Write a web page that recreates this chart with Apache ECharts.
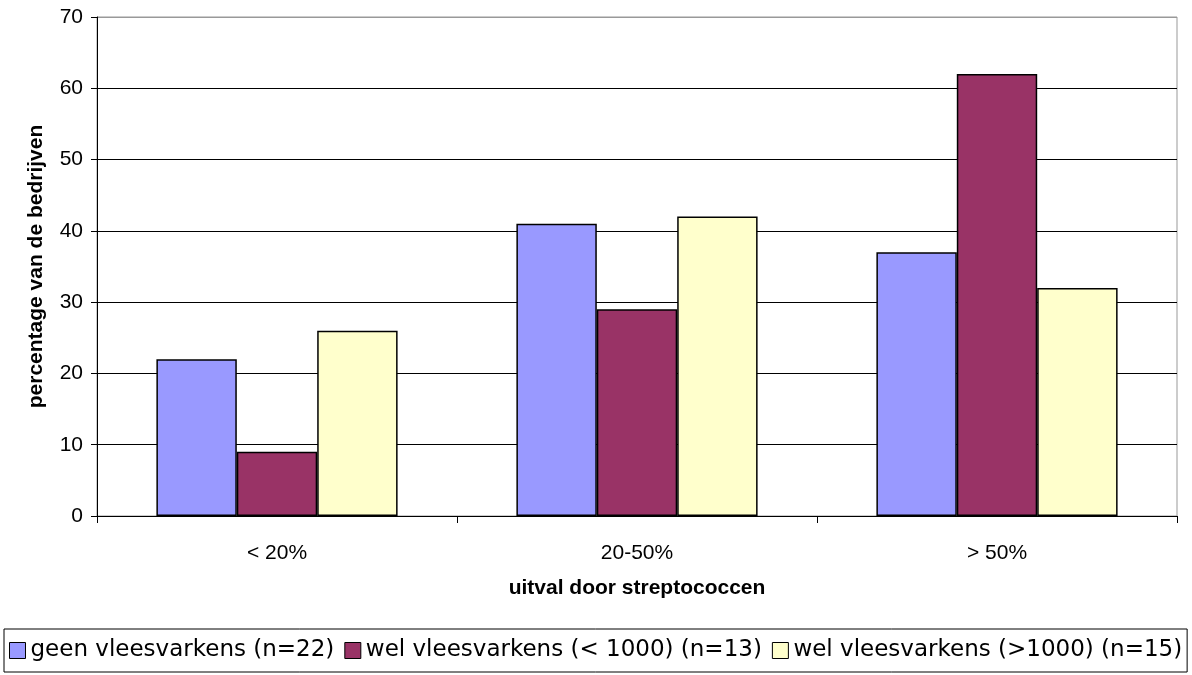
<!DOCTYPE html>
<html>
<head>
<meta charset="utf-8">
<script src="https://cdn.jsdelivr.net/npm/echarts@6/dist/echarts.min.js"></script>
<style>
  html, body { margin: 0; padding: 0; background: #fff; }
  #chart { width: 1192px; height: 675px; }
</style>
</head>
<body>
<div id="chart"></div>
<script>
// Uitval door streptococcen, per bedrijfstype
const categories = ['< 20%', '20-50%', '> 50%'];
const seriesNames = [
  'geen vleesvarkens (n=22)',
  'wel vleesvarkens (< 1000) (n=13)',
  'wel vleesvarkens (>1000) (n=15)'
];
const geenVlees = [22, 41, 37];
const welVleesKlein = [9, 29, 62];
const welVleesGroot = [26, 42, 32];
const seriesColors = ['#9999FF', '#993366', '#FFFFCC'];

const font = 'Liberation Sans, Arial, sans-serif';
const legendFont = 'DejaVu Sans, Liberation Sans, sans-serif';
const values = [geenVlees, welVleesKlein, welVleesGroot];

// gridlines are black, the top one sits on the grey plot frame
const gridColors = ['#000', '#000', '#000', '#000', '#000', '#000', '#000', '#999'];

const chart = echarts.init(document.getElementById('chart'), null, { renderer: 'canvas' });
chart.setOption({
  animation: false,
  backgroundColor: '#fff',
  textStyle: { fontFamily: font },
  grid: {
    left: 97, right: 15, top: 17, bottom: 159,
    show: true, borderColor: '#999', borderWidth: 1, backgroundColor: 'transparent'
  },
  legend: {
    left: 4, top: 629,
    padding: [10, 5, 10, 5],
    borderColor: '#000', borderWidth: 1,
    itemWidth: 16, itemHeight: 16, itemGap: 10,
    icon: 'rect',
    textStyle: { fontFamily: legendFont, fontSize: 23, color: '#000' },
    data: seriesNames.map(n => ({ name: n, itemStyle: { borderColor: '#000', borderWidth: 1 } }))
  },
  xAxis: {
    type: 'category',
    data: categories,
    name: 'uitval door streptococcen',
    nameLocation: 'middle',
    nameGap: 62,
    nameTextStyle: { fontFamily: font, fontSize: 21, fontWeight: 'bold', color: '#000' },
    axisLine: { lineStyle: { color: '#000', width: 1 } },
    axisTick: { show: true, length: 7, lineStyle: { color: '#000' } },
    axisLabel: { fontFamily: font, fontSize: 21, color: '#000', margin: 27 }
  },
  yAxis: {
    type: 'value',
    min: 0, max: 70, interval: 10,
    name: 'percentage van de bedrijven',
    nameLocation: 'middle',
    nameGap: 50,
    nameTextStyle: { fontFamily: font, fontSize: 21, fontWeight: 'bold', color: '#000' },
    axisLine: { show: true, lineStyle: { color: '#000', width: 1 } },
    axisTick: { show: true, length: 6, lineStyle: { color: '#000' } },
    axisLabel: { fontFamily: font, fontSize: 21, color: '#000', margin: 14 },
    splitLine: { show: true, lineStyle: { color: gridColors, width: 1 } }
  },
  series: seriesNames.map((name, i) => ({
    name: name,
    type: 'bar',
    data: values[i],
    barGap: '0%',
    barCategoryGap: '33%',
    itemStyle: { color: seriesColors[i], borderColor: '#000', borderWidth: 1.5 }
  }))
});
</script>
</body>
</html>
